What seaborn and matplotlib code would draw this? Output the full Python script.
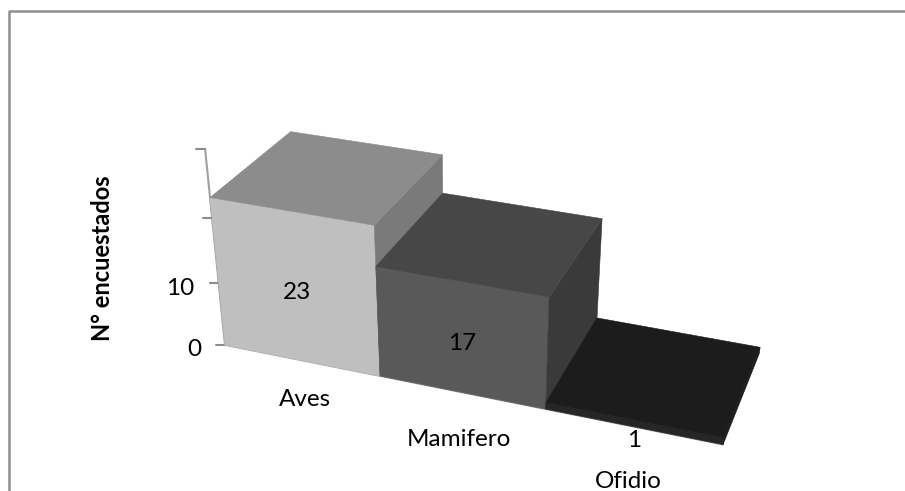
# Tipo de animal vs N de encuestados, 3D columns drawn on a seaborn barplot

import numpy as np
import seaborn as sns
import matplotlib.pyplot as plt
from matplotlib.patches import Polygon
from matplotlib.transforms import Transform

# -----------------------------
# Data
# -----------------------------
categories = ["Aves", "Mamifero", "Ofidio"]
values = [23, 17, 1]
tick_values = [0, 10, 20, 30]
tick_labels = ["0", "10", "", ""]
y_title = "N° encuestados"

# colours: front, top, side
front_colors = ["#bfbfbf", "#595959", "#262626"]
top_colors = ["#8c8c8c", "#474747", "#1c1c1c"]
side_colors = ["#7a7a7a", "#3a3a3a", "#1a1a1a"]

# label offsets under the projected spot, px
value_dy = [5, 5, 17]
cat_dy = [39, 47, 55]
cat_dx = [4, -2, -4]
font = "Lato"
font_size = 17.5


# -----------------------------
# Camera
# -----------------------------
def project(u, d, v):
    w = 1 - 0.0321 * u + 0.092 * d - 0.00249 * v
    x = (225 + 142.8 * u + 102.7 * d - 1.174 * v) / w
    y = (345 + 18.94 * u - 50.0 * d - 6.904 * v) / w
    return x, y


class FrontFace(Transform):
    input_dims = 2
    output_dims = 2

    def transform_non_affine(self, xy):
        xy = np.asarray(xy, dtype=float)
        px, py = project(xy[:, 0] + 0.5, 0.0, xy[:, 1])
        return np.column_stack([px, py])


# -----------------------------
# Draw
# -----------------------------
sns.set_theme(style="white")
plt.rcParams["font.family"] = [font, "DejaVu Sans"]

fig = plt.figure(figsize=(9.05, 4.91), dpi=100)
ax = fig.add_axes([0, 0, 1, 1])

sns.barplot(x=categories, y=values, hue=categories, palette=front_colors,
            width=1, gap=0, saturation=1, legend=False, ax=ax)

ax.set_xlim(0, 905)
ax.set_ylim(491, 0)
ax.set_axis_off()

front = FrontFace()
for i, bar in enumerate(ax.patches):
    bar.set_transform(front + ax.transData)
    bar.set_clip_on(False)
    bar.set_zorder(3 + i)
    bar.set_edgecolor(front_colors[i])
    bar.set_linewidth(0.4)

    u0 = bar.get_x() + 0.5
    u1 = u0 + bar.get_width()
    h = bar.get_height()
    top = [project(u0, 0, h), project(u1, 0, h), project(u1, 1, h), project(u0, 1, h)]
    side = [project(u1, 0, 0), project(u1, 1, 0), project(u1, 1, h), project(u1, 0, h)]
    ax.add_patch(Polygon(side, facecolor=side_colors[i], edgecolor=side_colors[i], lw=0.4, zorder=3 + i))
    ax.add_patch(Polygon(top, facecolor=top_colors[i], edgecolor=top_colors[i], lw=0.4, zorder=3 + i))

    # value label on the front face
    lx, ly = project((u0 + u1) / 2, 0, h / 2)
    ax.text(lx + 1, ly + value_dy[i], str(values[i]), ha="center", va="center",
            fontsize=font_size, color="black", zorder=10)

    # category label under the floor
    cx, cy = project((u0 + u1) / 2, 0, 0)
    ax.text(cx + cat_dx[i], cy + cat_dy[i], categories[i], ha="center", va="center",
            fontsize=font_size, color="black", zorder=10)

# value axis on the front left corner
axis_x, axis_y = zip(*[project(0, 0, t) for t in (tick_values[0], tick_values[-1])])
ax.plot(axis_x, axis_y, color="#a0a0a0", lw=1.5, zorder=2)
for t, lab in zip(tick_values, tick_labels):
    tx, ty = project(0, 0, t)
    ax.plot([tx - 9, tx], [ty, ty], color="#8c8c8c", lw=1.5, zorder=2)
    if lab:
        ax.text(tx - 24, ty + 5, lab, ha="right", va="center",
                fontsize=font_size, color="black")

# floor edge
floor_x, floor_y = zip(*[project(u, 0, 0) for u in (0, len(categories))])
ax.plot(floor_x, floor_y, color="#a6a6a6", lw=1.3, zorder=2.5)

ax.text(102, 258, y_title, rotation=90, ha="center", va="center",
        fontsize=17, fontweight="bold", color="black")

# chart frame, only top and left are in the crop
ax.plot([9, 9, 905], [491, 11, 11], color="#8e8e8e", lw=1.8, zorder=1)

plt.savefig("out.png", dpi=100)
